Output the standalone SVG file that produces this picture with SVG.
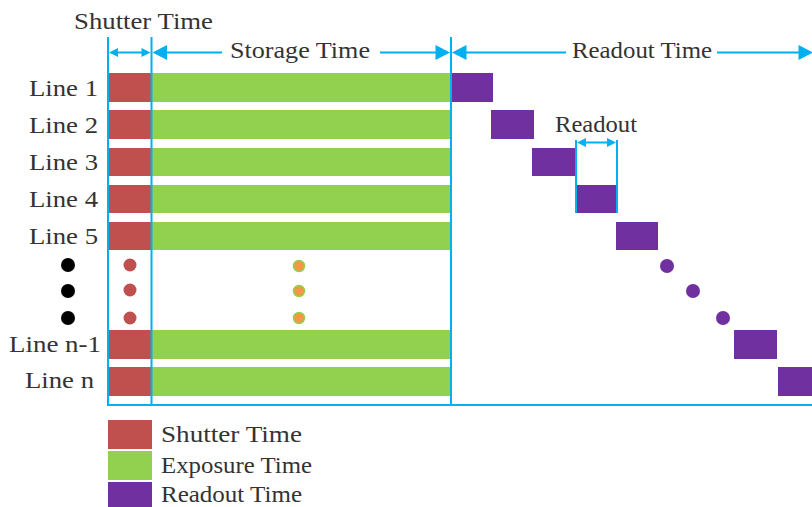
<svg xmlns="http://www.w3.org/2000/svg" width="812" height="507" viewBox="0 0 812 507">
<defs>
<style>
text{font-family:"Liberation Serif","Times New Roman",serif;font-size:24px;fill:#333;}
.sh{fill:#C0504D;}
.ex{fill:#92D050;}
.ro{fill:#7030A0;}
.bl{stroke:#00B0F0;stroke-width:2;fill:none;}
.ah{fill:#00B0F0;}
</style>
</defs>
<rect width="812" height="507" fill="#fff"/>
<g id="rows">
<g id="line1"><rect class="sh" x="108" y="73" width="43" height="29"/><rect class="ex" x="151" y="73" width="299" height="29"/><rect class="ro" x="451" y="73" width="42" height="29"/><text x="29" y="96" textLength="69" lengthAdjust="spacingAndGlyphs">Line 1</text></g>
<g id="line2"><rect class="sh" x="108" y="110" width="43" height="29"/><rect class="ex" x="151" y="110" width="299" height="29"/><rect class="ro" x="491" y="110" width="43" height="29"/><text x="29" y="133" textLength="69" lengthAdjust="spacingAndGlyphs">Line 2</text></g>
<g id="line3"><rect class="sh" x="108" y="148" width="43" height="28"/><rect class="ex" x="151" y="148" width="299" height="28"/><rect class="ro" x="532" y="148" width="43" height="28"/><text x="29" y="170" textLength="69" lengthAdjust="spacingAndGlyphs">Line 3</text></g>
<g id="line4"><rect class="sh" x="108" y="185" width="43" height="28"/><rect class="ex" x="151" y="185" width="299" height="28"/><rect class="ro" x="576" y="185" width="41" height="28"/><text x="29" y="207" textLength="69" lengthAdjust="spacingAndGlyphs">Line 4</text></g>
<g id="line5"><rect class="sh" x="108" y="222" width="43" height="28"/><rect class="ex" x="151" y="222" width="299" height="28"/><rect class="ro" x="616" y="222" width="42" height="28"/><text x="29" y="244" textLength="69" lengthAdjust="spacingAndGlyphs">Line 5</text></g>
<g id="dots">
<circle cx="68" cy="265" r="7" fill="#000"/><circle cx="68" cy="291" r="7" fill="#000"/><circle cx="68" cy="318" r="7" fill="#000"/>
<circle cx="130" cy="265" r="6.5" class="sh"/><circle cx="130" cy="290" r="6.5" class="sh"/><circle cx="130" cy="318" r="6.5" class="sh"/>
<circle cx="299" cy="266" r="5.5" fill="#F79646" stroke="#92D050" stroke-width="1.5"/><circle cx="299" cy="291" r="5.5" fill="#F79646" stroke="#92D050" stroke-width="1.5"/><circle cx="299" cy="318" r="5.5" fill="#F79646" stroke="#92D050" stroke-width="1.5"/>
<circle cx="667" cy="266" r="7" class="ro"/><circle cx="693" cy="291" r="7" class="ro"/><circle cx="723" cy="318" r="7" class="ro"/>
</g>
<g id="linen1"><rect class="sh" x="108" y="330" width="43" height="29"/><rect class="ex" x="151" y="330" width="299" height="29"/><rect class="ro" x="734" y="330" width="43" height="29"/><text x="9" y="352" textLength="92" lengthAdjust="spacingAndGlyphs">Line n-1</text></g>
<g id="linen"><rect class="sh" x="108" y="367" width="43" height="29"/><rect class="ex" x="151" y="367" width="299" height="29"/><rect class="ro" x="778" y="367" width="40" height="29"/><text x="25" y="388" textLength="69" lengthAdjust="spacingAndGlyphs">Line n</text></g>
</g>
<g id="connectors">
<line class="bl" x1="108" y1="37" x2="108" y2="406"/>
<line class="bl" x1="151.5" y1="37" x2="151.5" y2="406"/>
<line class="bl" x1="451" y1="37" x2="451" y2="406"/>
<line class="bl" x1="107" y1="405" x2="812" y2="405"/>
<line class="bl" x1="116" y1="52.5" x2="143" y2="52.5"/>
<polygon class="ah" points="109,52.5 118,48 118,57"/>
<polygon class="ah" points="150.5,52.5 141.5,48 141.5,57"/>
<line class="bl" x1="165" y1="52.5" x2="222" y2="52.5"/>
<line class="bl" x1="380" y1="52.5" x2="437" y2="52.5"/>
<polygon class="ah" points="152.5,52.5 167,45 167,60"/>
<polygon class="ah" points="450,52.5 435.5,45 435.5,60"/>
<line class="bl" x1="465" y1="52.5" x2="566" y2="52.5"/>
<line class="bl" x1="717" y1="52.5" x2="800" y2="52.5"/>
<polygon class="ah" points="452,52.5 466.5,45 466.5,60"/>
<polygon class="ah" points="813,52.5 798.5,45 798.5,60"/>
<line class="bl" x1="576" y1="140" x2="576" y2="213"/>
<line class="bl" x1="617" y1="140" x2="617" y2="213"/>
<line class="bl" x1="583" y1="142.5" x2="610" y2="142.5"/>
<polygon class="ah" points="577,142.5 586,138 586,147"/>
<polygon class="ah" points="616,142.5 607,138 607,147"/>
</g>
<g id="labels">
<text x="74" y="29" textLength="139" lengthAdjust="spacingAndGlyphs">Shutter Time</text>
<text x="230" y="58" textLength="140" lengthAdjust="spacingAndGlyphs">Storage Time</text>
<text x="572" y="58" textLength="140" lengthAdjust="spacingAndGlyphs">Readout Time</text>
<text x="555" y="132" textLength="82" lengthAdjust="spacingAndGlyphs">Readout</text>
</g>
<g id="legend">
<rect class="sh" x="108" y="420" width="44" height="29"/>
<rect class="ex" x="108" y="451" width="44" height="29"/>
<rect class="ro" x="108" y="482" width="44" height="25"/>
<text x="161" y="442" textLength="141" lengthAdjust="spacingAndGlyphs">Shutter Time</text>
<text x="161" y="473" textLength="151" lengthAdjust="spacingAndGlyphs">Exposure Time</text>
<text x="161" y="502" textLength="141" lengthAdjust="spacingAndGlyphs">Readout Time</text>
</g>
</svg>
